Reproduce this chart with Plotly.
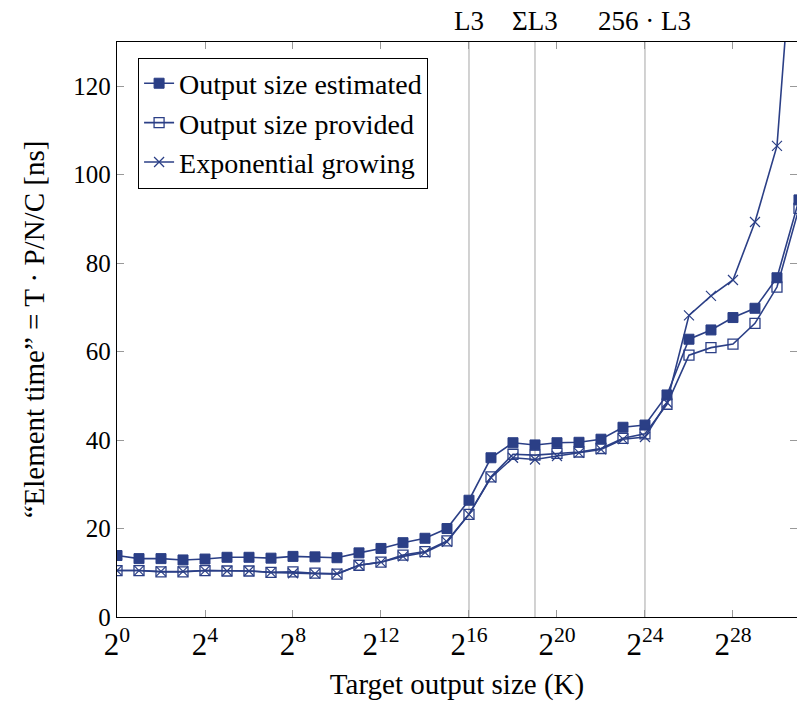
import math
import plotly.graph_objects as go

exponents = list(range(0, 32))
sizes = [2 ** e for e in exponents]

estimated = [13.9, 13.2, 13.2, 12.9, 13.1, 13.5, 13.5, 13.3, 13.7, 13.6, 13.4, 14.5, 15.5, 16.8, 17.8, 20.0,
             26.4, 36.0, 39.4, 38.9, 39.4, 39.5, 40.2, 42.9, 43.4, 50.2, 62.8, 64.9, 67.7, 69.8, 76.7, 94.3]
provided = [10.5, 10.5, 10.2, 10.2, 10.5, 10.4, 10.4, 10.1, 10.2, 9.9, 9.7, 11.7, 12.4, 14.0, 14.8, 17.2,
            23.2, 31.7, 36.8, 36.6, 37.0, 37.3, 38.1, 40.4, 41.4, 48.1, 59.2, 60.9, 61.7, 66.4, 74.6, 92.4]
exponential = [10.5, 10.5, 10.3, 10.3, 10.5, 10.4, 10.4, 10.1, 9.9, 9.8, 9.8, 11.7, 12.4, 13.7, 14.6, 17.0,
               23.2, 31.5, 36.0, 35.6, 36.4, 37.1, 37.9, 40.2, 40.7, 48.5, 68.2, 72.6, 76.2, 89.3, 106.5, 172.0]

tick_exps = [0, 4, 8, 12, 16, 20, 24, 28]
y_ticks = [0, 20, 40, 60, 80, 100, 120]
cache_exps = [16, 19, 24]
cache_labels = ["L3", "ΣL3", "256 · L3"]

COL = "#2b3f86"
FONT = "Liberation Serif"

fig = go.Figure()
fig.add_trace(go.Scatter(x=sizes, y=estimated, name="Output size estimated", mode="lines+markers",
                         line=dict(color=COL, width=1.6),
                         marker=dict(symbol="square", size=10, color=COL, line=dict(color=COL, width=1))))
fig.add_trace(go.Scatter(x=sizes, y=provided, name="Output size provided", mode="lines+markers",
                         line=dict(color=COL, width=1.6),
                         marker=dict(symbol="square-open", size=10, color=COL, line=dict(color=COL, width=1.3))))
fig.add_trace(go.Scatter(x=sizes, y=exponential, name="Exponential growing", mode="lines+markers",
                         line=dict(color=COL, width=1.6),
                         marker=dict(symbol="x-thin", size=10, color=COL, line=dict(color=COL, width=1.2))))

for e, lab in zip(cache_exps, cache_labels):
    fig.add_shape(type="line", xref="x", yref="paper", x0=2 ** e, x1=2 ** e, y0=0, y1=1,
                  line=dict(color="#b4b4b4", width=1.2), layer="below")
    fig.add_annotation(x=math.log10(2 ** e), xref="x", y=1, yref="paper",
                       yanchor="bottom", yshift=4, text=lab, showarrow=False,
                       font=dict(family=FONT, size=27, color="black"))

fig.update_xaxes(type="log", range=[0, 30.91 * math.log10(2)],
                 tickvals=[2 ** e for e in tick_exps],
                 ticktext=[f"2<sup>{e}</sup>" for e in tick_exps],
                 ticks="inside", ticklen=7, tickcolor="#999999", tickwidth=1,
                 showline=True, linecolor="black", linewidth=1.3, mirror="ticks",
                 showgrid=False, zeroline=False,
                 tickfont=dict(family=FONT, size=31, color="black"),
                 title=dict(text="Target output size (K)", font=dict(family=FONT, size=29, color="black"),
                            standoff=12))
fig.update_yaxes(range=[0, 130], tickvals=y_ticks,
                 ticks="inside", ticklen=7, tickcolor="#999999", tickwidth=1,
                 showline=True, linecolor="black", linewidth=1.3, mirror="ticks",
                 showgrid=False, zeroline=False,
                 tickfont=dict(family=FONT, size=25, color="black"),
                 title=dict(text="“Element time” = T · P/N/C [ns]",
                            font=dict(family=FONT, size=29, color="black"), standoff=20))

fig.update_layout(width=797, height=705, margin=dict(l=117, r=0, t=42, b=88),
                  plot_bgcolor="white", paper_bgcolor="white", showlegend=True,
                  legend=dict(x=0.031, y=0.973, xanchor="left", yanchor="top",
                              bgcolor="white", bordercolor="black", borderwidth=1,
                              font=dict(family=FONT, size=28, color="black"),
                              itemwidth=30, tracegroupgap=0))

fig.write_html("out.html")
